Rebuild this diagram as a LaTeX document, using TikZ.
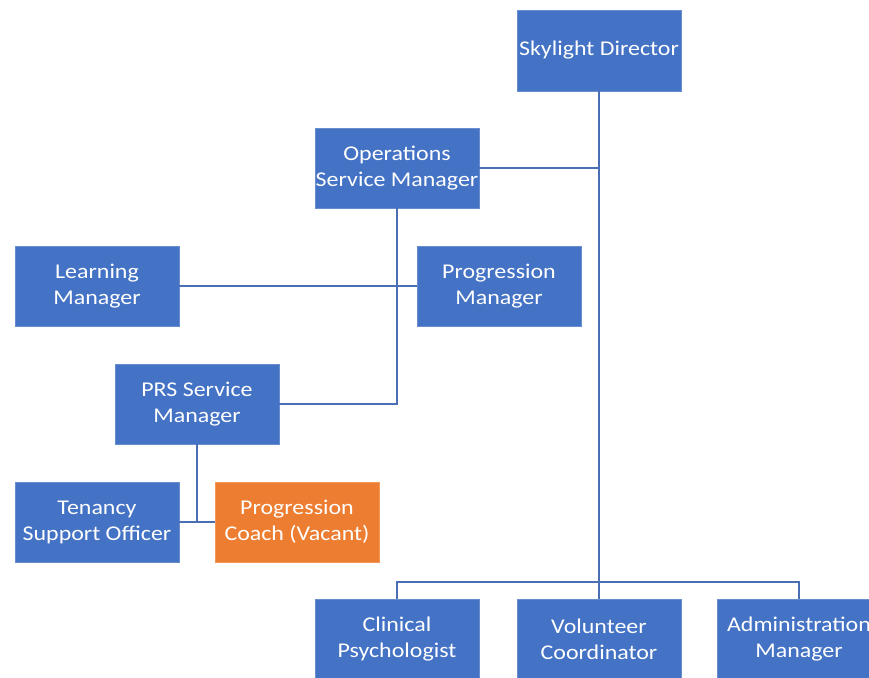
\documentclass[tikz,border=0pt]{standalone}
\usepackage{fontspec}
\setmainfont{Carlito}
\newfontfamily\widefont[FakeStretch=1.14]{Carlito}
\definecolor{boxblue}{HTML}{4472C4}
\definecolor{boxorange}{HTML}{ED7D31}
\definecolor{lineblue}{HTML}{4A6FB5}
\begin{document}
\begin{tikzpicture}[x=1pt,y=-1pt,
  role/.style={rectangle,fill=boxblue,draw=boxblue!80!white,line width=0.6pt,minimum width=164pt,minimum height=80pt,inner sep=0pt,text=white,align=center,font=\widefont\fontsize{21}{26}\selectfont},
  vacant/.style={role,fill=boxorange,draw=boxorange!80!white},
  link/.style={draw=lineblue,line width=1.5pt}]
\useasboundingbox (0,0) rectangle (869,677);
\begin{scope}
\clip (0,0) rectangle (869,677);
\node[role,minimum height=81pt] (dir) at (599,50.5) {Skylight Director};
\node[role] (ops) at (397,168) {Operations\\Service Manager};
\node[role] (learn) at (97,286) {Learning\\Manager};
\node[role] (prog) at (499,286) {Progression\\Manager};
\node[role] (prs) at (197,404) {PRS Service\\Manager};
\node[role] (ten) at (97,522) {Tenancy\\Support Officer};
\node[vacant] (coach) at (297,522) {Progression\\Coach (Vacant)};
\node[role] (clin) at (397,639) {Clinical\\Psychologist};
\node[role] (vol) at (599,639) {Volunteer\\Coordinator};
\node[role] (adm) at (799,639) {Administration\\Manager};
\coordinate (bus) at (599,582);
\draw[link] (dir.south) -- (vol.north);
\draw[link] (ops.east) -- (ops.east -| dir.south);
\draw[link] (ops.south) -- (ops.south |- prs.east) -- (prs.east);
\draw[link] (learn.east) -- (prog.west);
\draw[link] (prs.south) -- (prs.south |- ten.east);
\draw[link] (ten.east) -- (coach.west);
\draw[link] (clin.north) -- (clin.north |- bus) -- (adm.north |- bus) -- (adm.north);
\end{scope}
\end{tikzpicture}
\end{document}
